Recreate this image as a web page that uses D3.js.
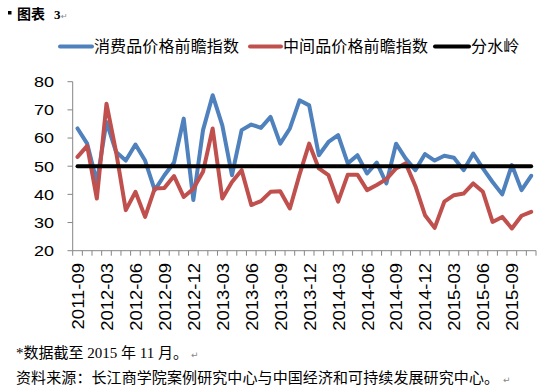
<!DOCTYPE html>
<html><head><meta charset="utf-8">
<script src="https://cdn.jsdelivr.net/npm/d3@7"></script>
<style>body{margin:0;background:#fff;} svg{display:block;}</style>
</head><body>
<svg id="c" width="552" height="391"></svg>
<script>
const categories = ["2011-09","2011-10","2011-11","2012-03","2012-04","2012-05","2012-06","2012-07","2012-08","2012-09","2012-10","2012-11","2012-12",
"2013-01","2013-02","2013-03","2013-04","2013-05","2013-06","2013-07","2013-08","2013-09","2013-10","2013-11","2013-12",
"2014-01","2014-02","2014-03","2014-04","2014-05","2014-06","2014-07","2014-08","2014-09","2014-10","2014-11","2014-12",
"2015-01","2015-02","2015-03","2015-04","2015-05","2015-06","2015-07","2015-08","2015-09","2015-10","2015-11"];
const consumerIndex = [63.4,58,44.4,65.7,55,52,57.7,52,41.5,46.8,51.3,66.9,38,62.8,75.2,64.5,46.8,62.8,64.8,63.6,67.5,58,63.4,73.4,71.6,
53.9,58.6,61,51,53.9,47.4,51.3,43.9,58,52.7,48.6,54.3,52,53.7,53,48.6,54.5,49.2,44.4,40,50.4,41.5,46.6];
const intermediateIndex = [53.3,57.2,38.5,72.2,55,34.4,40.9,32,42.1,42.3,46.5,39.1,42,48,63.4,38.5,44.4,48.6,36.2,37.6,40.9,41.1,35,47,58,
49.2,46.8,37.4,47,47,41.5,43.3,45.4,49.2,51,43,32.6,28.1,37.4,39.7,40.3,43.9,40.9,30.2,32,27.9,32.4,33.8];
const watershed = categories.map(() => 50);
const yTicks = [20,30,40,50,60,70,80];
const seriesNames = ["消费品价格前瞻指数","中间品价格前瞻指数","分水岭"];
const colors = ["#4F81BD","#C0504D","#000000"];

const svg = d3.select("#c");
const x = d3.scaleBand().domain(categories).range([72.7, 536]).padding(0);
const y = d3.scaleLinear().domain([20, 80]).range([250.7, 81.7]);
const cx = c => x(c) + x.bandwidth() / 2;
const axisColor = "#868686";

// y axis
const ya = svg.append("g");
ya.append("line").attr("x1",72.7).attr("x2",72.7).attr("y1",y(80)).attr("y2",y(20)).attr("stroke",axisColor);
yTicks.forEach(t => {
  ya.append("line").attr("x1",67.5).attr("x2",72.7).attr("y1",y(t)).attr("y2",y(t)).attr("stroke",axisColor);
  ya.append("text").attr("transform",`translate(54,${y(t)}) scale(1.2,1)`)
    .attr("text-anchor","end").attr("dy","0.36em")
    .attr("font-family","Liberation Sans, Arial, sans-serif").attr("font-size",15).attr("fill","#000").text(t);
});
// x axis
const xa = svg.append("g");
xa.append("line").attr("x1",72.7).attr("x2",536).attr("y1",y(20)).attr("y2",y(20)).attr("stroke",axisColor);
categories.concat([null]).forEach((c,i) => {
  const xp = c === null ? 536 : x(c);
  xa.append("line").attr("x1",xp).attr("x2",xp).attr("y1",y(20)).attr("y2",y(20)+5).attr("stroke",axisColor);
});
categories.forEach((c,i) => {
  if (i % 3 !== 0) return;
  xa.append("text").attr("transform",`translate(${cx(c)+0.5},263) rotate(-90) scale(1.12,1)`)
    .attr("text-anchor","end").attr("dy","0.36em")
    .attr("font-family","Liberation Sans, Arial, sans-serif").attr("font-size",16.5).attr("fill","#000").text(c);
});

// lines
const line = d3.line().x((d,i) => cx(categories[i])).y(d => y(d));
[consumerIndex, intermediateIndex, watershed].forEach((s,k) => {
  svg.append("path").datum(s).attr("d", line).attr("fill","none")
    .attr("stroke", colors[k]).attr("stroke-width", 4).attr("stroke-linejoin","round").attr("stroke-linecap","round");
});

// legend
const legend = [{x1:60,x2:92,tx:94},{x1:250,x2:281,tx:283},{x1:435,x2:469,tx:471}];
legend.forEach((l,k) => {
  svg.append("line").attr("x1",l.x1).attr("x2",l.x2).attr("y1",46.5).attr("y2",46.5)
    .attr("stroke",colors[k]).attr("stroke-width",4).attr("stroke-linecap","round");
  svg.append("text").attr("x",l.tx).attr("y",46.5).attr("dy","0.36em")
    .attr("font-family","Noto Sans CJK SC, sans-serif").attr("font-size",16).attr("textLength", seriesNames[k].length*16.1)
    .attr("fill","#000").text(seriesNames[k]);
});

// title
svg.append("rect").attr("x",8).attr("y",11).attr("width",3.5).attr("height",3.5).attr("fill","#000");
svg.append("text").attr("x",17).attr("y",18.5).attr("font-family","Noto Sans CJK SC, sans-serif").attr("font-weight","bold")
  .attr("font-size",14).attr("fill","#000").text("图表");
svg.append("text").attr("x",54).attr("y",18.5).attr("font-family","Liberation Serif, serif").attr("font-weight","bold")
  .attr("font-size",13).attr("fill","#000").text("3");
svg.append("text").attr("x",61).attr("y",18.5).attr("font-family","DejaVu Sans, sans-serif")
  .attr("font-size",8).attr("fill","#888").text("↵");

// footnotes
const f1 = svg.append("text").attr("x",16).attr("y",358).attr("font-size",15).attr("fill","#000")
  .attr("font-family","Liberation Serif, Noto Sans CJK SC, serif");
f1.append("tspan").text("*数据截至 2015 年 11 月。");
f1.append("tspan").attr("fill","#888").attr("font-size",9).attr("font-family","DejaVu Sans").attr("dx",3).text("↵");
const f2 = svg.append("text").attr("x",16).attr("y",383).attr("font-size",15).attr("fill","#000")
  .attr("font-family","Noto Sans CJK SC, sans-serif");
f2.append("tspan").attr("textLength",483).text("资料来源：长江商学院案例研究中心与中国经济和可持续发展研究中心。");
f2.append("tspan").attr("fill","#888").attr("font-size",9).attr("font-family","DejaVu Sans").attr("dx",4).text("↵");
</script>
</body></html>
